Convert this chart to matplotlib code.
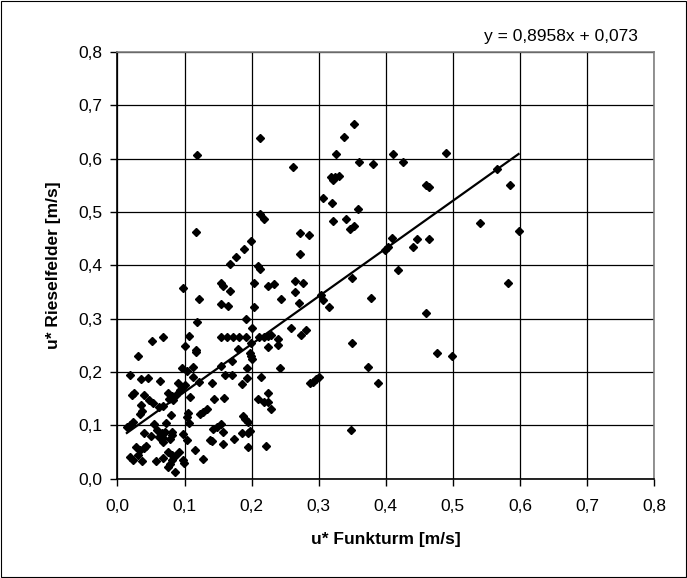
import matplotlib
matplotlib.use("Agg")
import matplotlib.pyplot as plt
import numpy as np

plt.rcParams['font.family'] = ['Liberation Sans', 'DejaVu Sans']

funkturm = [
    0.119, 0.212, 0.353, 0.338, 0.262, 0.326, 0.360, 0.381, 0.411, 0.426, 0.490,
    0.318, 0.322, 0.325, 0.330, 0.306, 0.320, 0.359, 0.322, 0.341, 0.346, 0.352,
    0.460, 0.464, 0.566, 0.585, 0.540, 0.598, 0.272, 0.286, 0.272, 0.409, 0.403,
    0.399, 0.447, 0.441, 0.464, 0.418, 0.582, 0.460, 0.265, 0.276, 0.265, 0.270,
    0.350, 0.303, 0.306, 0.316, 0.378, 0.259, 0.273, 0.281, 0.350, 0.373, 0.389,
    0.287, 0.291, 0.296, 0.300, 0.348, 0.477, 0.499, 0.212, 0.218, 0.117, 0.199,
    0.188, 0.176, 0.168, 0.210, 0.212, 0.204, 0.225, 0.234, 0.244, 0.203, 0.191,
    0.200, 0.098, 0.155, 0.158, 0.168, 0.121, 0.154, 0.165, 0.118, 0.051, 0.068,
    0.107, 0.154, 0.164, 0.172, 0.181, 0.191, 0.211, 0.218, 0.225, 0.229, 0.239,
    0.239, 0.225, 0.199, 0.179, 0.197, 0.199, 0.201, 0.171, 0.155, 0.193, 0.243,
    0.160, 0.171, 0.193, 0.214, 0.141, 0.186, 0.101, 0.117, 0.117, 0.031, 0.096,
    0.103, 0.112, 0.018, 0.035, 0.045, 0.063, 0.090, 0.113, 0.121, 0.144, 0.159,
    0.225, 0.209, 0.218, 0.224, 0.229, 0.123, 0.128, 0.133, 0.187, 0.190, 0.194,
    0.143, 0.148, 0.154, 0.157, 0.197, 0.186, 0.194, 0.173, 0.138, 0.141, 0.157,
    0.194, 0.222, 0.127, 0.024, 0.021, 0.039, 0.047, 0.053, 0.076, 0.081, 0.077,
    0.093, 0.096, 0.101, 0.108, 0.087, 0.083, 0.068, 0.062, 0.035, 0.036, 0.033,
    0.080, 0.105, 0.103, 0.023, 0.019, 0.014, 0.055, 0.072, 0.106, 0.039, 0.059,
    0.066, 0.071, 0.081, 0.050, 0.062, 0.068, 0.068, 0.078, 0.082, 0.097, 0.103,
    0.043, 0.039, 0.033, 0.028, 0.031, 0.019, 0.023, 0.036, 0.057, 0.068, 0.076,
    0.081, 0.081, 0.078, 0.091, 0.086, 0.076, 0.086, 0.097, 0.099, 0.116,
]
rieselfelder = [
    0.607, 0.638, 0.665, 0.641, 0.585, 0.609, 0.594, 0.590, 0.608, 0.594, 0.611,
    0.566, 0.560, 0.565, 0.567, 0.527, 0.517, 0.505, 0.484, 0.486, 0.469, 0.474,
    0.551, 0.546, 0.580, 0.551, 0.480, 0.465, 0.460, 0.456, 0.421, 0.451, 0.435,
    0.429, 0.449, 0.435, 0.449, 0.391, 0.366, 0.310, 0.371, 0.367, 0.350, 0.330,
    0.376, 0.344, 0.335, 0.322, 0.339, 0.283, 0.270, 0.279, 0.254, 0.210, 0.180,
    0.180, 0.182, 0.186, 0.190, 0.092, 0.236, 0.229, 0.496, 0.486, 0.463, 0.446,
    0.431, 0.416, 0.402, 0.399, 0.394, 0.366, 0.361, 0.364, 0.336, 0.321, 0.299,
    0.282, 0.358, 0.366, 0.362, 0.352, 0.336, 0.327, 0.324, 0.294, 0.258, 0.265,
    0.268, 0.265, 0.265, 0.265, 0.265, 0.265, 0.266, 0.266, 0.267, 0.270, 0.262,
    0.250, 0.247, 0.254, 0.243, 0.235, 0.229, 0.225, 0.220, 0.211, 0.208, 0.208,
    0.194, 0.195, 0.188, 0.191, 0.180, 0.177, 0.249, 0.241, 0.237, 0.230, 0.208,
    0.202, 0.210, 0.195, 0.187, 0.188, 0.183, 0.179, 0.191, 0.182, 0.149, 0.152,
    0.160, 0.149, 0.143, 0.144, 0.130, 0.122, 0.124, 0.130, 0.118, 0.112, 0.107,
    0.093, 0.097, 0.102, 0.087, 0.089, 0.085, 0.085, 0.074, 0.072, 0.070, 0.065,
    0.060, 0.062, 0.036, 0.161, 0.157, 0.157, 0.147, 0.142, 0.161, 0.155, 0.150,
    0.166, 0.171, 0.175, 0.153, 0.157, 0.147, 0.136, 0.135, 0.138, 0.127, 0.122,
    0.120, 0.123, 0.116, 0.107, 0.100, 0.096, 0.102, 0.104, 0.104, 0.086, 0.091,
    0.086, 0.088, 0.088, 0.080, 0.078, 0.077, 0.069, 0.075, 0.082, 0.083, 0.072,
    0.061, 0.057, 0.053, 0.060, 0.044, 0.040, 0.035, 0.033, 0.033, 0.038, 0.050,
    0.044, 0.035, 0.028, 0.050, 0.042, 0.021, 0.013, 0.035, 0.030, 0.053,
]

slope = 0.8958
intercept = 0.073
equation_text = "y = 0,8958x + 0,073"
x_ticks = [0.0, 0.1, 0.2, 0.3, 0.4, 0.5, 0.6, 0.7, 0.8]
y_ticks = [0.0, 0.1, 0.2, 0.3, 0.4, 0.5, 0.6, 0.7, 0.8]
x_label = "u* Funkturm [m/s]"
y_label = "u* Rieselfelder [m/s]"

fig = plt.figure(figsize=(6.87, 5.78), dpi=100)
fig.patch.set_facecolor('white')
# outer frame
fig.add_artist(plt.Rectangle((0.0015, 0.002), 0.997, 0.996, transform=fig.transFigure,
                             fill=False, edgecolor='black', linewidth=0.8))

ax = fig.add_axes([0.171, 0.172, 0.781, 0.738])
ax.set_xlim(0, 0.8)
ax.set_ylim(0, 0.8)
ax.set_xticks(x_ticks)
ax.set_yticks(y_ticks)
ax.set_xticklabels([f"{t:.1f}".replace('.', ',') for t in x_ticks], fontsize=12.5)
ax.set_yticklabels([f"{t:.1f}".replace('.', ',') for t in y_ticks], fontsize=12.5)
ax.grid(True, color='black', linewidth=0.9)
ax.set_axisbelow(True)
ax.tick_params(direction='out', length=5, width=1, color='black')
ax.tick_params(axis='x', pad=10)
ax.tick_params(axis='y', pad=6)
for s in ['top', 'right']:
    ax.spines[s].set_color('#808080')
    ax.spines[s].set_linewidth(1.2)
for s in ['left', 'bottom']:
    ax.spines[s].set_color('black')
    ax.spines[s].set_linewidth(1.2)

ax.plot(funkturm, rieselfelder, linestyle='none', marker='D', markersize=4.2,
        color='black', zorder=3)

xs = np.array([min(funkturm), max(funkturm)])
ax.plot(xs, slope * xs + intercept, color='black', linewidth=1.6, zorder=4)

ax.set_xlabel(x_label, fontsize=12.5, fontweight='bold', labelpad=13)
ax.set_ylabel(y_label, fontsize=12.5, fontweight='bold', labelpad=12)

fig.text(0.928, 0.937, equation_text, fontsize=12.5, ha='right', va='center')

fig.savefig("out.png", dpi=100)
